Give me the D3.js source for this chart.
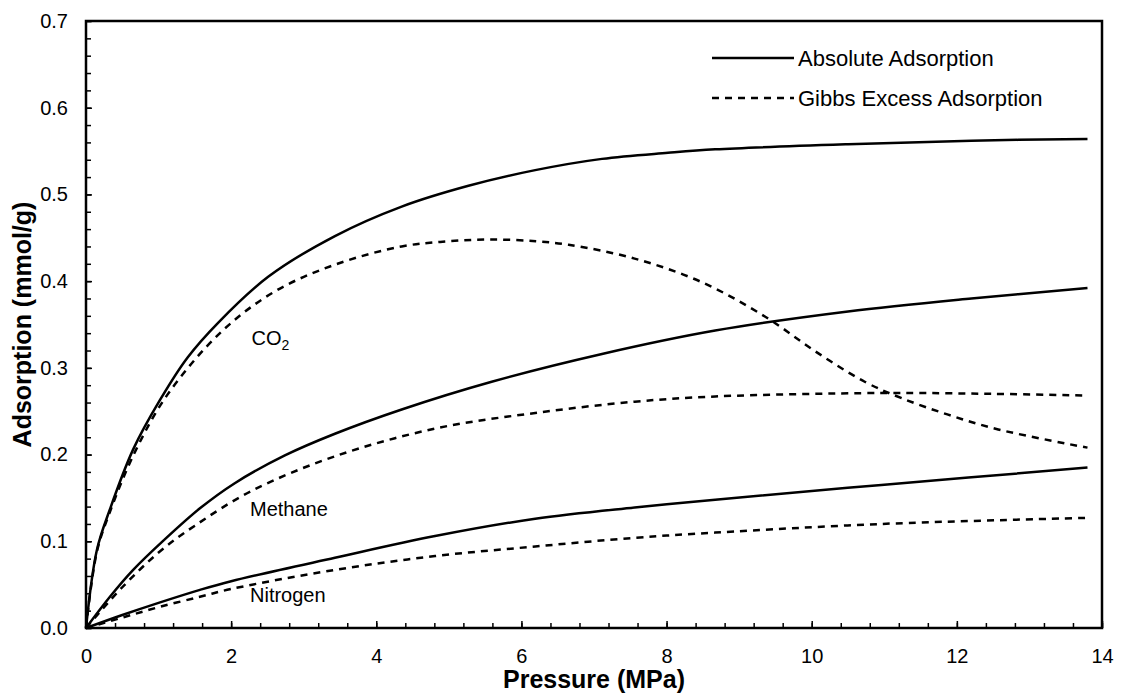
<!DOCTYPE html>
<html>
<head>
<meta charset="utf-8">
<script src="https://cdn.jsdelivr.net/npm/d3@7"></script>
<style>
  body { margin: 0; background: #fff; }
  svg { display: block; font-family: "Liberation Sans", Arial, sans-serif; }
  .axis path { display: none; }
  .axis line { stroke: #000; stroke-width: 1.5; }
  .axis text { font-size: 20px; fill: #000; }
</style>
</head>
<body>
<svg id="chart" width="1123" height="694"></svg>
<script>
// Pressure (MPa) / adsorption (mmol/g) pairs
var co2Absolute = [[0,0],[0.15,0.090],[0.33,0.137],[0.65,0.206],[1.02,0.263],[1.4,0.312],[1.82,0.352],
  [2.51,0.405],[3.43,0.452],[4.35,0.486],[5.27,0.510],[6.19,0.528],[7.11,0.541],[8.02,0.548],
  [8.67,0.552],[10.5,0.558],[12.2,0.562],[13.8,0.564]];
var co2Excess = [[0,0],[0.15,0.088],[0.33,0.134],[0.68,0.204],[1.13,0.270],[1.87,0.342],[2.6,0.388],
  [3.43,0.419],[4.35,0.440],[5.0,0.446],[5.59,0.448],[6.2,0.446],[6.65,0.442],[7.56,0.426],
  [8.48,0.399],[9.36,0.359],[10.05,0.319],[10.73,0.284],[11.24,0.265],[11.88,0.246],
  [12.57,0.229],[13.8,0.208]];
var methaneAbsolute = [[0,0],[0.33,0.036],[0.65,0.067],[1.07,0.101],[1.57,0.138],[2.05,0.167],
  [2.74,0.199],[3.43,0.224],[4.35,0.252],[5.59,0.284],[7.11,0.316],[8.67,0.343],[10.5,0.365],
  [12.2,0.380],[13.8,0.392]];
var methaneExcess = [[0,0],[0.5,0.047],[1.0,0.087],[1.5,0.118],[2.28,0.158],[3.43,0.198],[4.81,0.230],
  [6.19,0.248],[7.56,0.261],[8.67,0.267],[10.96,0.271],[12.5,0.270],[13.8,0.268]];
var nitrogenAbsolute = [[0,0],[0.5,0.015],[1.0,0.029],[1.57,0.044],[2.0,0.054],[3.43,0.081],[4.81,0.106],
  [6.19,0.126],[7.56,0.139],[8.67,0.148],[10.96,0.165],[13.8,0.185]];
var nitrogenExcess = [[0,0],[0.5,0.012],[1.0,0.024],[1.57,0.036],[2.0,0.045],[3.43,0.067],[4.81,0.083],
  [6.19,0.094],[7.56,0.104],[8.67,0.110],[10.96,0.120],[13.8,0.127]];

var xMajorTicks = [0, 2, 4, 6, 8, 10, 12, 14];
var yMajorTicks = [0, 0.1, 0.2, 0.3, 0.4, 0.5, 0.6, 0.7];

var series = [
  { data: co2Absolute, dashed: false },
  { data: co2Excess, dashed: true },
  { data: methaneAbsolute, dashed: false },
  { data: methaneExcess, dashed: true },
  { data: nitrogenAbsolute, dashed: false },
  { data: nitrogenExcess, dashed: true }
];

var gasLabels = [
  { text: 'CO', sub: '2', x: 2.28, y: 0.335 },
  { text: 'Methane', x: 2.26, y: 0.137 },
  { text: 'Nitrogen', x: 2.26, y: 0.038 }
];

var legendItems = [
  { text: 'Absolute Adsorption', dashed: false },
  { text: 'Gibbs Excess Adsorption', dashed: true }
];

var margin = { left: 86, right: 21, top: 21, bottom: 66 };
var width = 1123, height = 694;

var svg = d3.select('#chart');

var x = d3.scaleLinear().domain([0, 14]).range([margin.left, width - margin.right]);
var y = d3.scaleLinear().domain([0, 0.7]).range([height - margin.bottom, margin.top]);

var dash = '7,6';

// minor ticks
svg.append('g')
  .attr('class', 'axis')
  .attr('transform', 'translate(0,' + y(0) + ')')
  .call(d3.axisBottom(x).tickValues(d3.range(0, 14.01, 0.4)).tickSize(-5).tickFormat(''));
svg.append('g')
  .attr('class', 'axis')
  .attr('transform', 'translate(' + x(0) + ',0)')
  .call(d3.axisLeft(y).tickValues(d3.range(0, 0.701, 0.02)).tickSize(-5).tickFormat(''));

// major ticks with labels
svg.append('g')
  .attr('class', 'axis')
  .attr('transform', 'translate(0,' + y(0) + ')')
  .call(d3.axisBottom(x).tickValues(xMajorTicks).tickSize(-7).tickPadding(21).tickFormat(d3.format('d')));
svg.append('g')
  .attr('class', 'axis')
  .attr('transform', 'translate(' + x(0) + ',0)')
  .call(d3.axisLeft(y).tickValues(yMajorTicks).tickSize(-6).tickPadding(18).tickFormat(d3.format('.1f')));

// frame
svg.append('rect')
  .attr('x', x(0)).attr('y', y(0.7))
  .attr('width', x(14) - x(0)).attr('height', y(0) - y(0.7))
  .attr('fill', 'none').attr('stroke', '#000').attr('stroke-width', 2.5);

var line = d3.line()
  .x(function(d) { return x(d[0]); })
  .y(function(d) { return y(d[1]); })
  .curve(d3.curveCatmullRom.alpha(0.5));

svg.append('g').selectAll('path')
  .data(series)
  .join('path')
  .attr('d', function(d) { return line(d.data); })
  .attr('fill', 'none')
  .attr('stroke', '#000')
  .attr('stroke-width', 2.5)
  .attr('stroke-dasharray', function(d) { return d.dashed ? dash : null; });

// gas labels
gasLabels.forEach(function(l) {
  var t = svg.append('text')
    .attr('x', x(l.x)).attr('y', y(l.y))
    .attr('dy', '0.35em')
    .attr('font-size', 20)
    .text(l.text);
  if (l.sub) {
    t.append('tspan').attr('font-size', 14).attr('dy', 5).text(l.sub);
  }
});

// legend
var legend = svg.append('g');
legendItems.forEach(function(item, i) {
  var ly = 58 + i * 40;
  legend.append('line')
    .attr('x1', 712).attr('x2', 794).attr('y1', ly).attr('y2', ly)
    .attr('stroke', '#000').attr('stroke-width', 2.5)
    .attr('stroke-dasharray', item.dashed ? dash : null);
  legend.append('text')
    .attr('x', 798).attr('y', ly).attr('dy', '0.35em')
    .attr('font-size', 22)
    .text(item.text);
});

// axis titles
svg.append('text')
  .attr('x', (x(0) + x(14)) / 2).attr('y', 688)
  .attr('text-anchor', 'middle')
  .attr('font-size', 25).attr('font-weight', 'bold')
  .text('Pressure (MPa)');

svg.append('text')
  .attr('transform', 'translate(31,' + (y(0) + y(0.7)) / 2 + ') rotate(-90)')
  .attr('text-anchor', 'middle')
  .attr('font-size', 25).attr('font-weight', 'bold')
  .text('Adsorption (mmol/g)');
</script>
</body>
</html>
